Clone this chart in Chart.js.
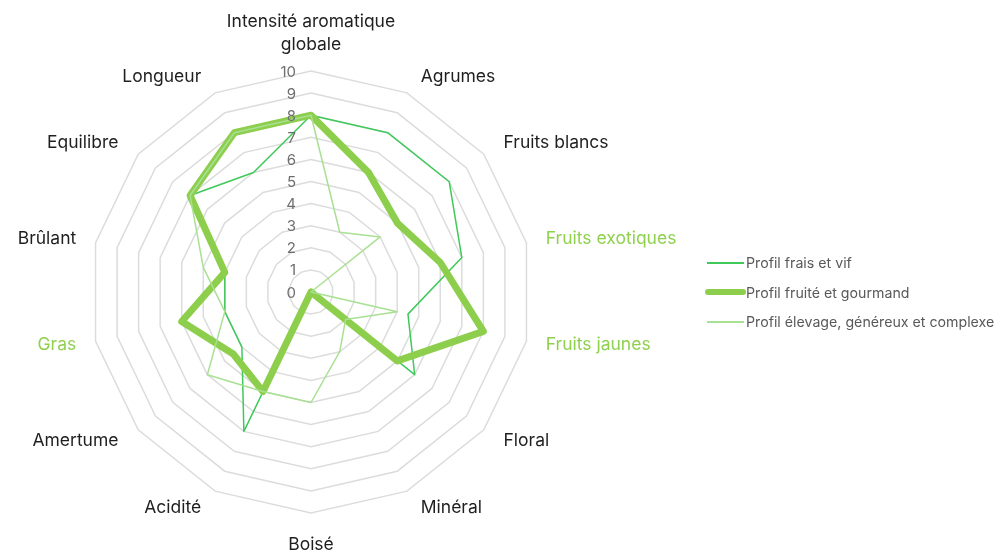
<!DOCTYPE html>
<html lang="fr">
<head>
<meta charset="utf-8">
<script src="https://cdn.jsdelivr.net/npm/chart.js@4.4.1/dist/chart.umd.min.js"></script>
<style>
  html, body { margin: 0; padding: 0; background: #ffffff; }
  #wrap { position: relative; width: 1000px; height: 552px; }
  #legend { position: absolute; left: 704px; top: 248px; font: 14.2px Inter, sans-serif; color: #595959; }
  .item { display: flex; align-items: center; height: 29.5px; white-space: nowrap; }
  .swatch { width: 42px; display: flex; align-items: center; justify-content: center; }
</style>
</head>
<body>
<div id="wrap">
  <canvas id="chart" width="1000" height="552"></canvas>
  <div id="legend"></div>
</div>
<script>
// axes of the radar, clockwise from the top
const categories = [
  ['Intensité aromatique', 'globale'], 'Agrumes', 'Fruits blancs', 'Fruits exotiques',
  'Fruits jaunes', 'Floral', 'Minéral', 'Boisé', 'Acidité', 'Amertume',
  'Gras', 'Brûlant', 'Equilibre', 'Longueur'
];
// categories written in green in the original
const greenCategories = ['Fruits exotiques', 'Fruits jaunes', 'Gras'];

const seriesNames = [
  'Profil frais et vif',
  'Profil fruité et gourmand',
  'Profil élevage, généreux et complexe'
];
const fraisEtVif      = [8, 8, 8, 7, 4.5, 6, 0, 0, 7, 4, 4, 4, 7, 6];
const fruiteGourmand  = [8, 6, 5, 6, 8, 5, 0, 0, 5, 4.5, 6, 4, 7, 8];
const elevageComplexe = [8, 3, 4, 0, 4, 2, 3, 5, 5, 6, 4, 5, 7, 8];

const scaleMin = 0;
const scaleMax = 10;
const scaleStep = 1;

const colors = ['#3fc95a', '#8dcf4c', '#a8e094'];
const widths = [1.5, 7, 1.5];
const labelFont = '17.5px Inter';

// draws the category names and the 0..10 tick labels from the radial scale
const axisText = {
  id: 'axisText',
  afterDraw(chart) {
    const r = chart.scales.r;
    const ctx = chart.ctx;
    ctx.save();

    ctx.font = '15px Inter';
    ctx.fillStyle = '#6e6e6e';
    ctx.textAlign = 'right';
    ctx.textBaseline = 'middle';
    r.ticks.forEach(t => {
      const y = r.yCenter - r.getDistanceFromCenterForValue(t.value);
      ctx.fillText(String(t.value), r.xCenter - 15, y + 1);
    });

    ctx.font = labelFont;
    const lh = 23;
    categories.forEach((label, i) => {
      const lines = [].concat(label);
      const name = lines.join(' ');
      ctx.fillStyle = greenCategories.includes(name) ? '#8fd14f' : '#1f1f1f';
      const a = r.getIndexAngle(i);
      const deg = Math.round(a * 180 / Math.PI) % 360;
      // labels near the top/bottom sit a little further out horizontally
      const px = r.getPointPosition(i, r.drawingArea + 19 + 16 * Math.cos(a) ** 2);
      const py = r.getPointPosition(i, r.drawingArea + 18);
      if (deg === 0 || deg === 180) {
        const edge = r.getPointPosition(i, r.drawingArea + (deg === 0 ? 15 : 20));
        ctx.textAlign = 'center';
        lines.forEach((txt, k) => {
          const y = deg === 0
            ? edge.y - (lines.length - k - 0.5) * lh
            : edge.y + (k + 0.5) * lh;
          ctx.fillText(txt, edge.x, y);
        });
      } else {
        ctx.textAlign = deg < 180 ? 'left' : 'right';
        lines.forEach((txt, k) => {
          ctx.fillText(txt, px.x, py.y + (k - (lines.length - 1) / 2) * lh);
        });
      }
    });
    ctx.restore();
  }
};

const seriesData = [fraisEtVif, fruiteGourmand, elevageComplexe];

const chart = new Chart(document.getElementById('chart'), {
  type: 'radar',
  data: {
    labels: categories,
    datasets: seriesData.map((values, i) => ({
      label: seriesNames[i],
      data: values,
      borderColor: colors[i],
      backgroundColor: colors[i],
      borderWidth: widths[i],
      borderJoinStyle: 'round',
      borderCapStyle: 'round',
      fill: false,
      pointRadius: 0,
      tension: 0,
      order: 3 - i
    }))
  },
  options: {
    responsive: false,
    animation: false,
    layout: { padding: { top: 71, left: 90, right: 468, bottom: 39 } },
    plugins: { legend: { display: false }, tooltip: { enabled: false } },
    scales: {
      r: {
        min: scaleMin,
        max: scaleMax,
        ticks: { display: false, stepSize: scaleStep },
        grid: { color: '#dcdcdc', lineWidth: 1.5, circular: false },
        angleLines: { display: false },
        pointLabels: { display: false }
      }
    }
  },
  plugins: [axisText]
});

// legend built from the same datasets
const legend = document.getElementById('legend');
chart.data.datasets.forEach(ds => {
  const item = document.createElement('div');
  item.className = 'item';
  const sw = document.createElement('div');
  sw.className = 'swatch';
  const line = document.createElement('div');
  const thick = ds.borderWidth > 3;
  line.style.width = thick ? '41px' : '37px';
  line.style.height = (thick ? 6 : 1.5) + 'px';
  line.style.borderRadius = thick ? '3px' : '0';
  line.style.background = ds.borderColor;
  sw.appendChild(line);
  const txt = document.createElement('span');
  txt.textContent = ds.label;
  item.appendChild(sw);
  item.appendChild(txt);
  legend.appendChild(item);
});
</script>
</body>
</html>
